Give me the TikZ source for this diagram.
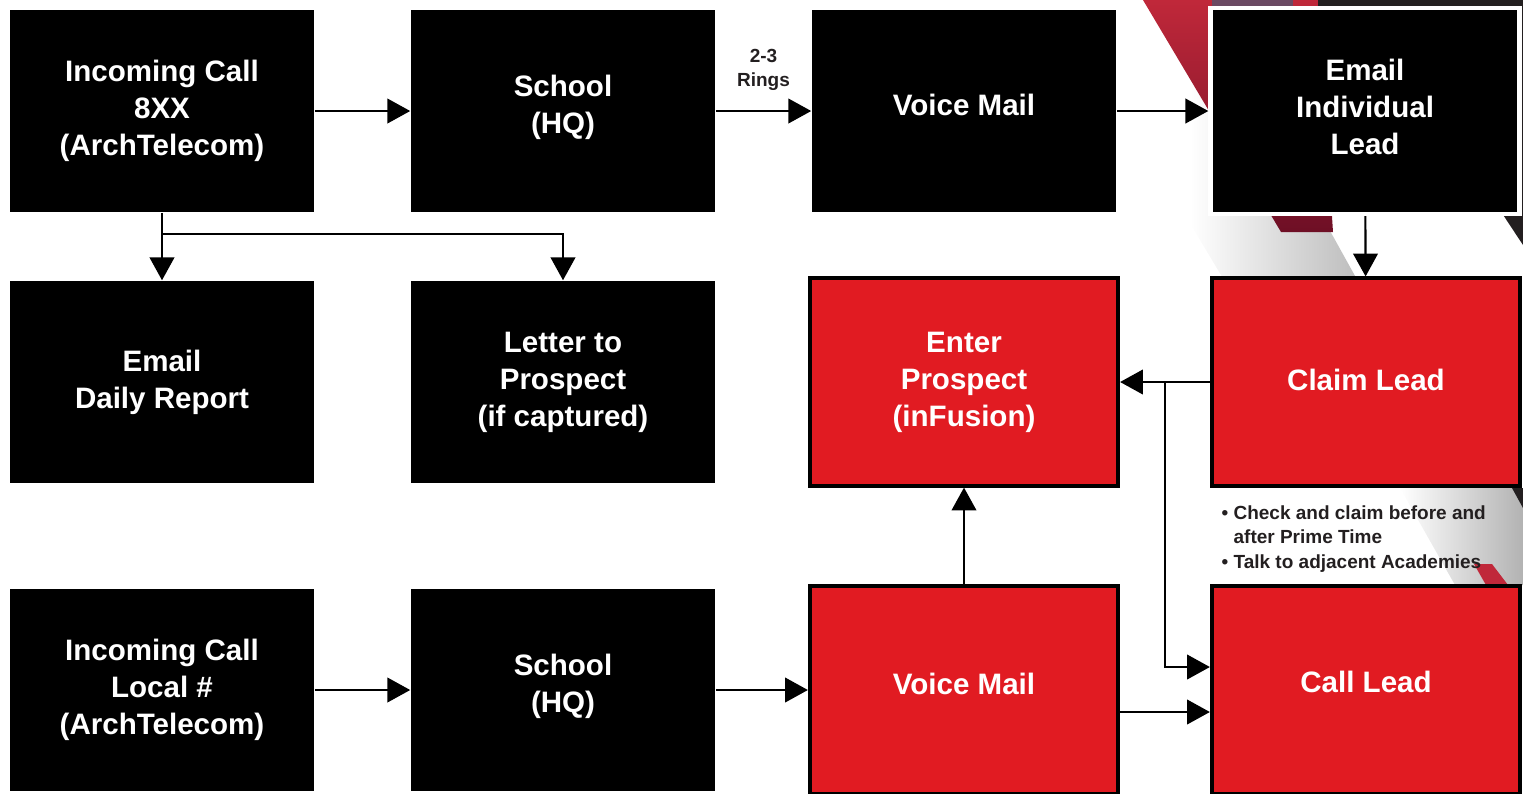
\documentclass[tikz,border=0pt]{standalone}
\usepackage{fontspec}
\setmainfont{Liberation Sans}
\usetikzlibrary{arrows.meta,calc}
\definecolor{leadred}{HTML}{E11B22}
\definecolor{bgred}{HTML}{C0283A}
\definecolor{bgdeep}{HTML}{6E0F25}
\definecolor{bgdark}{HTML}{231F20}
\definecolor{bgplum}{HTML}{6B4A63}
\definecolor{txtdark}{HTML}{231F20}

\begin{document}
\begin{tikzpicture}[x=0.01cm, y=-0.01cm,
	box/.style={fill=black, text=white, minimum width=3.04cm, minimum height=2.02cm, align=center, inner sep=0pt, font=\bfseries\fontsize{8.4}{10.5}\selectfont},
	redbox/.style={box, fill=leadred, draw=black, line width=1.15pt, minimum width=3.08cm, minimum height=2.07cm},
	lift/.style={text depth=#1},
	arr/.style={line width=0.6pt, -{Triangle[width=7pt,length=6.5pt]}},
	note/.style={text=txtdark, inner sep=0pt, font=\bfseries\fontsize{5.4}{6.9}\selectfont}]
	\useasboundingbox (0,0) rectangle (1523,793);
	% backdrop stripes
	\begin{scope}
		\clip (1056,0) -- (1202,0) -- (1385,330) -- (1254,330) -- cycle;
		\shade[left color=white, right color=black!30] (1190,0) rectangle (1385,330);
	\end{scope}
	\shade[top color=bgred, bottom color=bgdeep] (1143,0) -- (1318,0) -- (1333,232) -- (1281,232) -- cycle;
	\fill[bgplum] (1212,0) -- (1293,0) -- (1293,10) -- (1212,10) -- cycle;
	\fill[bgdark] (1318,0) -- (1523,0) -- (1523,245) -- (1490,195) -- (1490,10) -- (1318,10) -- cycle;
	\shade[left color=white, right color=black!30] (1400,488) -- (1523,488) -- (1523,585) -- (1455,585) -- cycle;
	\fill[bgred] (1474,564) -- (1492,564) -- (1508,585) -- (1486,585) -- cycle;
	\fill[bgdark] (1512,488) -- (1523,488) -- (1523,508) -- cycle;

	\node[box] (incall) at (162,111) {Incoming Call\\8XX\\(ArchTelecom)};
	\node[box, lift=3.6pt] (school) at (563,111) {School\\(HQ)};
	\node[box, lift=3.4pt] (vmail) at (964,111) {Voice Mail};
	\node[box, lift=2.3pt, draw=white, line width=1.2pt, minimum width=3.09cm, minimum height=2.06cm] (emailind) at (1365,111) {Email\\Individual\\Lead};
	\node[box] (daily) at (162,382) {Email\\Daily Report};
	\node[box] (letter) at (563,382) {Letter to\\Prospect\\(if captured)};
	\node[redbox] (enter) at (964,382) {Enter\\Prospect\\(inFusion)};
	\node[redbox, lift=1.2pt] (claim) at (1366,382) {Claim Lead};
	\node[box] (incall2) at (162,690) {Incoming Call\\Local \#\\(ArchTelecom)};
	\node[box, lift=3.6pt] (school2) at (563,690) {School\\(HQ)};
	\node[redbox, lift=3.8pt] (vmail2) at (964,690) {Voice Mail};
	\node[redbox, lift=4.8pt] (call) at (1366,690) {Call Lead};
	\node[note, anchor=north west, align=left] (tips) at (1221,505) {•~Check and claim before and\\\phantom{•~}after Prime Time\\•~Talk to adjacent Academies};

	\draw[arr] (incall) -- (school);
	\draw[arr] (school) -- node[note, above=5.5pt, align=center] {2-3\\Rings} (vmail);
	\draw[arr] (vmail) -- (emailind);
	\draw[arr] (incall) -- (daily);
	\draw[arr] ($(incall.south)+(0,21)$) -| (letter.north);
	\draw[arr] (emailind) -- (claim);
	\draw[arr] (claim) -- (enter);
	\draw[arr] ($(claim.west)+(-45,0)$) |- ($(call.west)+(0,-23)$);
	\draw[arr] (vmail2) -- (enter);
	\draw[arr] ($(vmail2.east)+(0,22)$) -- ($(call.west)+(0,22)$);
	\draw[arr] (incall2) -- (school2);
	\draw[arr] (school2) -- (vmail2);
\end{tikzpicture}
\end{document}
